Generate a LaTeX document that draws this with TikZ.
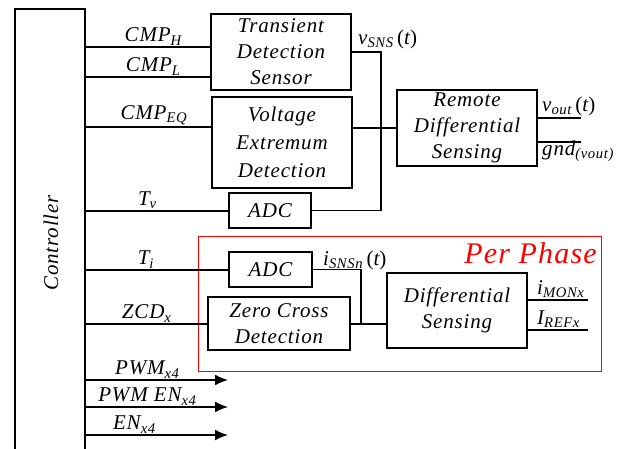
\documentclass[tikz,border=0pt]{standalone}
\usepackage{fontspec}
\setmainfont{Liberation Serif}[LetterSpace=4]
\usetikzlibrary{positioning,arrows.meta,calc}
\tikzset{%
  font=\fontsize{21}{26}\selectfont\itshape, >={Latex[length=13pt,width=11pt]},
  block/.style={draw,rectangle,line width=2pt,align=center,inner sep=0pt},
  wire/.style={draw,line width=1.8pt},
  lbl/.style={inner sep=1pt}
}
\newcommand{\sg}[2]{#1\textsubscript{#2}}

\begin{document}
\begin{tikzpicture}[x=1pt,y=-1pt]
	\useasboundingbox (0,0) rectangle (621,449);
	\node[draw,line width=1.6pt,minimum width=70pt,minimum height=470pt,anchor=north west] (controller) at (14,8) {};
	\node[rotate=90] (controller label) at (51,243) {Controller};
	
	\begin{scope}[every node/.style={block}]
	\node[minimum width=140pt,minimum height=76pt,anchor=north west] (transient) at (210,13) {Transient\\Detection\\Sensor};
	\node[minimum width=140pt,minimum height=91pt,anchor=north west] (extremum) at (211,96) {Voltage\\[2pt]Extremum\\[2pt]Detection};
	\node[minimum width=82pt,minimum height=35pt,anchor=north west] (adc v) at (228,192) {ADC};
	\node[minimum width=140pt,minimum height=76pt,anchor=north west] (remote) at (396,89) {Remote\\Differential\\Sensing};
	\node[minimum width=83pt,minimum height=35pt,anchor=north west] (adc i) at (228,251) {ADC};
	\node[minimum width=142pt,minimum height=53pt,anchor=north west] (zcd) at (207,296) {Zero Cross\\Detection};
	\node[minimum width=140pt,minimum height=75pt,anchor=north west] (diff) at (386,272) {Differential\\Sensing};
	\end{scope}
	
	\node[draw=red,line width=1.4pt,minimum width=403pt,minimum height=135pt,anchor=north west,inner sep=0pt] (per phase) at (198,236) {};
	\node[red,font=\fontsize{30}{36}\selectfont\itshape,anchor=base east,inner sep=0pt] (per phase label) at (597,263) {Per Phase};
	
	% controller taps
	\coordinate (cmph) at (84,47);
	\coordinate (cmpl) at (84,77);
	\coordinate (cmpeq) at (84,127);
	\coordinate (tv) at (84,211);
	\coordinate (ti) at (84,270);
	\coordinate (zcdx) at (84,324);
	
	\draw[wire] (cmph) -- node[above,lbl,pos=.55] (cmph label) {\sg{CMP}{H}} (cmph -| transient.west);
	\draw[wire] (cmpl) -- node[above,lbl,pos=.55] (cmpl label) {\sg{CMP}{L}} (cmpl -| transient.west);
	\draw[wire] (cmpeq) -- node[above,lbl,pos=.55] (cmpeq label) {\sg{CMP}{EQ}} (cmpeq -| extremum.west);
	\draw[wire] (tv) -- node[above,lbl,pos=.44] (tv label) {\sg{T}{v}} (tv -| adc v.west);
	\draw[wire] (ti) -- node[above,lbl,pos=.43] (ti label) {\sg{T}{i}} (ti -| adc i.west);
	\draw[wire] (zcdx) -- node[above,lbl,pos=.51] (zcdx label) {\sg{ZCD}{x}} (zcdx -| zcd.west);
	
	\foreach \y/\n/\t/\p in {380/pwm/{\sg{PWM}{x4}}/.44,407/pwm en/{\sg{PWM EN}{x4}}/.44,435/en/{\sg{EN}{x4}}/.35} {%
		\coordinate (\n) at (84,\y);
		\coordinate (\n end) at (228,\y);
		\draw[wire,->] (\n) -- node[above,lbl,pos=\p] (\n label) {\t} (\n end);
	}
	
	% voltage sensing path
	\coordinate (vsns) at (381,52);
	\draw[wire] (transient.east |- vsns) -- (vsns) |- (adc v.east);
	\draw[wire] (extremum.east |- remote.west) -- (remote.west);
	\node[lbl,anchor=south west] (vsns label) at (357,50) {\sg{v}{SNS}\,\upshape(\itshape t\upshape)};
	
	\coordinate (vout) at (581,118);
	\coordinate (gnd) at (581,142);
	\draw[wire] (remote.east |- vout) -- (vout);
	\draw[wire] (remote.east |- gnd) -- (gnd);
	\node[lbl,anchor=south west] (vout label) at (541,117) {\sg{v}{out}\,\upshape(\itshape t\upshape)};
	\node[lbl,anchor=north west] (gnd label) at (541,140) {gnd\textsubscript{(vout)}};
	
	% current sensing path
	\coordinate (isns) at (361,324);
	\draw[wire] (adc i.east) -| (isns);
	\draw[wire] (zcd.east |- isns) -- (isns -| diff.west);
	\node[lbl,anchor=south west] (isns label) at (322,271) {\sg{i}{SNSn}\,\upshape(\itshape t\upshape)};
	
	\coordinate (imon) at (588,300);
	\coordinate (iref) at (588,330);
	\draw[wire] (diff.east |- imon) -- (imon);
	\draw[wire] (diff.east |- iref) -- (iref);
	\node[lbl,anchor=south west] (imon label) at (536,299) {\sg{i}{MONx}};
	\node[lbl,anchor=south west] (iref label) at (536,329) {\sg{I}{REFx}};
\end{tikzpicture}
\end{document}
